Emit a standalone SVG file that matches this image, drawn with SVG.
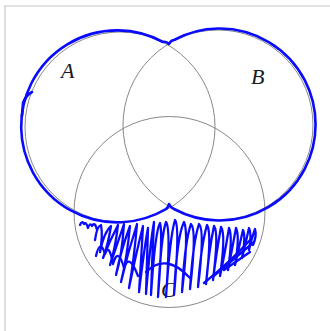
<svg xmlns="http://www.w3.org/2000/svg" width="330" height="331" viewBox="0 0 330 331">
<style>
.frame{stroke:#c8c8c8;stroke-width:1.2;fill:none}
.set{fill:none;stroke:#7a7a7a;stroke-width:0.9}
.lbl{font-family:"Liberation Serif",serif;font-style:italic;font-size:22px;fill:#1a1a1a}
.ink{fill:none;stroke:#0a0aff;stroke-width:2.6;stroke-linecap:round;stroke-linejoin:round}
.scr{fill:none;stroke:#0a0aff;stroke-width:2.3;stroke-linecap:round;stroke-linejoin:round}
</style>
<rect width="330" height="331" fill="#fff"/>
<g id="frame">
<line class="frame" x1="4" y1="6" x2="330" y2="6"/>
<line class="frame" x1="5" y1="6" x2="5" y2="331"/>
</g>
<g id="setA">
<circle class="set" cx="120" cy="127" r="95"/>
<text class="lbl" x="61" y="78">A</text>
</g>
<g id="setB">
<circle class="set" cx="218" cy="125" r="95"/>
<text class="lbl" x="251" y="84">B</text>
</g>
<g id="setC">
<circle class="set" cx="169.5" cy="212" r="95.5"/>
<text class="lbl" x="161" y="297">C</text>
</g>
<g id="annotations">
<path class="ink" d="M 169 44 Q 166 41 163 42 A 96 96 0 1 0 166 209 Q 168 208 169 204 Q 171 208 174 209 A 96 96 0 1 0 174 40 Q 171 40 169 44 Z"/>
<path class="ink" stroke-width="3.2" d="M 22 116 L 23 103 Q 26 95 32 92"/>
<path class="scr" d="M 80 225 Q 82 220 84 224 Q 86 221 88 228 Q 90 222 92 226 Q 95 221 97 230 M 95 240 Q 97 226 101 225 Q 103 236 100 252 Q 104 232 111 226 Q 108 245 103 258 Q 110 240 118 225 Q 115 250 110 265 Q 117 245 124 224 Q 122 255 116 275 Q 121 250 130 226 Q 127 258 121 282 Q 128 252 137 224 Q 134 260 129 288 Q 136 254 143 226 Q 141 262 139 292 Q 144 250 148 228 Q 147 262 146 294 Q 150 245 154 222 Q 152 260 151 295 Q 155 232 160 223 Q 163 232 158 297 Q 161 236 166 222 Q 171 228 166 297 Q 170 236 175 220 Q 180 226 174 295 Q 177 236 184 222 Q 189 232 182 292 Q 185 240 191 224 Q 197 230 190 289 Q 193 242 199 224 Q 205 230 198 287 Q 201 246 207 225 Q 212 232 206 284 Q 209 250 214 226 Q 219 232 213 280 Q 216 255 221 227 Q 226 234 220 276 Q 224 258 229 228 Q 233 236 228 270 Q 231 255 236 228 Q 240 236 235 265 Q 238 252 243 230 Q 246 236 242 258 Q 245 246 249 228 Q 252 234 249 250 Q 251 240 255 229 Q 257 236 253 245"/>
<path class="scr" d="M 96 256 Q 100 238 105 254 Q 109 242 113 264 Q 118 246 124 268 Q 129 252 138 276 M 146 272 Q 166 252 190 278 M 204 283 Q 230 262 252 238 M 214 276 Q 235 258 254 242 M 224 270 L 250 252"/>
</g>
</svg>
